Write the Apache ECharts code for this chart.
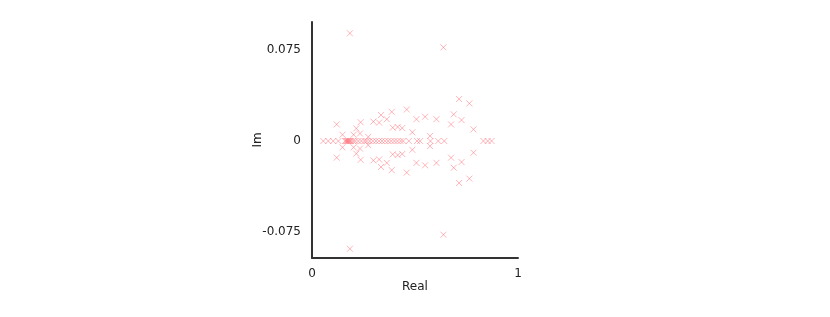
<!DOCTYPE html>
<html><head><meta charset="utf-8">
<script src="https://cdn.jsdelivr.net/npm/echarts@6/dist/echarts.min.js"></script>
<style>html,body{margin:0;padding:0;background:#fff}#c{width:830px;height:317px}</style>
</head><body><div id="c"></div>
<script>
// Eigenvalues on the real axis
const realAxisRe = [0.055,0.079,0.103,0.128,0.16,0.165,0.17,0.173,0.176,0.18,0.185,0.19,0.2,0.21,0.225,0.24,0.255,0.265,0.28,0.295,0.31,0.325,0.34,0.355,0.37,0.385,0.40,0.415,0.43,0.443,0.47,0.51,0.525,0.575,0.613,0.642,0.832,0.853,0.872];
// Upper-half complex eigenvalues (re, im)
const upperRe = [0.184,0.638,0.714,0.764,0.46,0.387,0.688,0.335,0.549,0.363,0.507,0.604,0.726,0.236,0.298,0.326,0.12,0.675,0.416,0.392,0.438,0.215,0.784,0.487,0.233,0.148,0.202,0.573,0.273];
const upperIm = [0.0888,0.0772,0.0346,0.031,0.026,0.024,0.022,0.0214,0.020,0.018,0.018,0.018,0.0173,0.0155,0.016,0.0152,0.0137,0.0137,0.0116,0.011,0.0107,0.0104,0.0096,0.0072,0.0062,0.0052,0.0052,0.0042,0.0034];
// Lower-half complex eigenvalues (re, im)
const lowerRe = [0.184,0.638,0.714,0.764,0.46,0.387,0.688,0.335,0.549,0.363,0.507,0.604,0.726,0.236,0.298,0.326,0.12,0.675,0.416,0.392,0.438,0.215,0.784,0.487,0.233,0.148,0.202,0.573,0.273];
const lowerIm = [-0.0888,-0.0772,-0.0346,-0.031,-0.026,-0.024,-0.022,-0.0214,-0.020,-0.018,-0.018,-0.018,-0.0173,-0.0155,-0.016,-0.0152,-0.0137,-0.0137,-0.0116,-0.011,-0.0107,-0.0104,-0.0096,-0.0072,-0.0062,-0.0052,-0.0052,-0.0042,-0.0034];
const yTicks = [-0.075, 0, 0.075];
const xTicks = [0, 1];

const pts = [];
realAxisRe.forEach(r => pts.push([r, 0]));
upperRe.forEach((r, i) => pts.push([r, upperIm[i]]));
lowerRe.forEach((r, i) => pts.push([r, lowerIm[i]]));

const chart = echarts.init(document.getElementById('c'), null, {renderer: 'canvas'});
const font = 'DejaVu Sans';
chart.setOption({
  animation: false,
  backgroundColor: '#fff',
  grid: {left: 312, right: 312, top: 22, bottom: 59},
  xAxis: {
    type: 'value', min: 0, max: 1, interval: 1,
    name: 'Real', nameLocation: 'middle', nameGap: 23, nameMoveOverlap: false,
    nameTextStyle: {fontFamily: font, fontSize: 12, color: '#222'},
    axisLine: {show: true, onZero: false, lineStyle: {color: '#333', width: 2}},
    axisTick: {show: false},
    splitLine: {show: false},
    axisLabel: {fontFamily: font, fontSize: 12, color: '#222', margin: 10, customValues: xTicks, formatter: v => String(v)}
  },
  yAxis: {
    type: 'value', min: -0.0964, max: 0.0981,
    name: 'Im', nameLocation: 'middle', nameGap: 48, nameRotate: 90, nameMoveOverlap: false,
    nameTextStyle: {fontFamily: font, fontSize: 12, color: '#222'},
    axisLine: {show: true, onZero: false, lineStyle: {color: '#333', width: 2}},
    axisTick: {show: false},
    splitLine: {show: false},
    axisLabel: {fontFamily: font, fontSize: 12, color: '#222', margin: 11, customValues: yTicks, formatter: v => String(v)}
  },
  series: [{
    type: 'scatter',
    data: pts,
    symbol: 'path://M0,0L10,10M10,0L0,10',
    symbolSize: 6,
    itemStyle: {color: 'rgba(0,0,0,0)', borderColor: 'rgba(255,100,110,0.6)', borderWidth: 1}
  }]
});
</script></body></html>
